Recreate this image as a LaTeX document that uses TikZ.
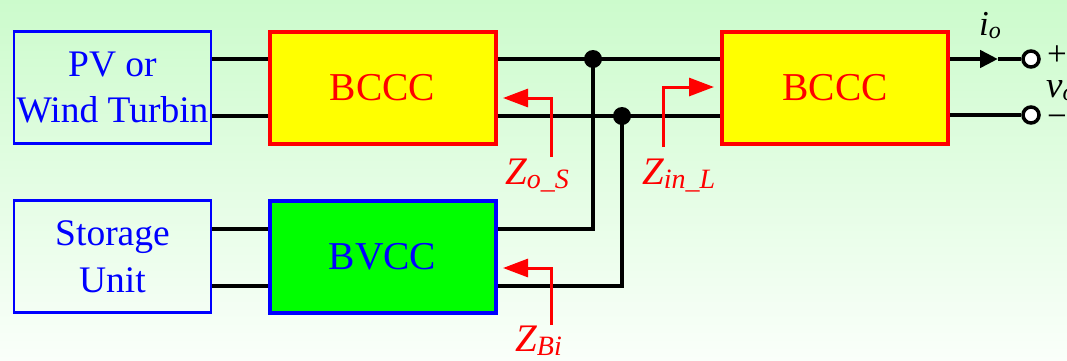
\documentclass[tikz,border=0pt]{standalone}
\usepackage{fontspec}
\setmainfont{Liberation Serif}
\usetikzlibrary{arrows.meta}
\definecolor{bgtop}{RGB}{204,251,204}
\definecolor{bgbot}{RGB}{250,255,250}
\definecolor{pureblue}{RGB}{0,0,255}
\definecolor{purered}{RGB}{255,0,0}
\definecolor{puregreen}{RGB}{0,255,0}
\definecolor{pureyellow}{RGB}{255,255,0}
\newcommand{\zsub}[1]{\raisebox{-4pt}{\fontsize{28}{28}\selectfont #1}}
\begin{document}
\begin{tikzpicture}[x=1pt,y=-1pt,
  src/.style={draw=pureblue,line width=2.5pt,text=pureblue,fill=none,
    minimum width=197pt,minimum height=112pt,inner sep=0pt,align=center,
    font=\fontsize{37.5}{47}\selectfont},
  conv/.style={line width=4pt,minimum width=226pt,minimum height=112pt,
    inner sep=0pt,font=\fontsize{39.5}{44}\selectfont},
  wire/.style={line width=4.5pt,draw=black},
  jdot/.style={circle,fill=black,inner sep=0pt,minimum size=18pt},
  term/.style={circle,draw=black,line width=3.5pt,fill=white,inner sep=0pt,minimum size=16pt},
  zarrow/.style={draw=purered,line width=3pt,-{Triangle[length=25pt,width=18pt]}},
  zlabel/.style={text=purered,inner sep=0pt,font=\fontsize{39}{40}\selectfont\itshape},
  plainlabel/.style={inner sep=0pt,font=\fontsize{35}{40}\selectfont},
]
\useasboundingbox (0,0) rectangle (1067,360);
\clip (0,0) rectangle (1067,360);
\fill[top color=bgtop,bottom color=bgbot] (0,0) rectangle (1067,360);

% blocks
\node[src] (pv) at (112.5,87.5) {PV or\\Wind Turbin};
\node[src] (su) at (112.5,256.5) {Storage\\Unit};
\node[conv,draw=purered,fill=pureyellow,text=purered] (b1) at (382.5,87.5) {BCCC};
\node[conv,draw=pureblue,fill=puregreen,text=pureblue] (bv) at (382.5,256.5) {BVCC};
\node[conv,draw=purered,fill=pureyellow,text=purered] (b2) at (835,87.5) {BCCC};

% junctions
\coordinate (jt) at (593,59);
\coordinate (jb) at (622,116);

% wires
\draw[wire] (pv.east |- jt) -- (b1.west |- jt);
\draw[wire] (pv.east |- jb) -- (b1.west |- jb);
\draw[wire] (su.east |- 0,229) -- (bv.west |- 0,229);
\draw[wire] (su.east |- 0,286) -- (bv.west |- 0,286);
\draw[wire] (b1.east |- jt) -- (b2.west |- jt);
\draw[wire] (b1.east |- jb) -- (b2.west |- jb);
\draw[wire] (jt) -- (jt |- 0,229) -- (bv.east |- 0,229);
\draw[wire] (jb) -- (jb |- 0,286) -- (bv.east |- 0,286);
\node[jdot] (dt) at (jt) {};
\node[jdot] (db) at (jb) {};

% output terminals
\node[term] (tp) at (1031,59) {};
\node[term] (tm) at (1031,115) {};
\coordinate (ah) at (998,59);
\draw[wire,-{Triangle[length=18pt,width=17pt]}] (b2.east |- tp) -- (ah);
\draw[wire] (ah) -- (tp.west);
\draw[wire] (b2.east |- tm) -- (tm.west);
\node[plainlabel,anchor=base west] (io) at (979,35) {\itshape i\raisebox{-3pt}{\fontsize{24}{24}\selectfont o}};
\node[plainlabel,anchor=west] (plus) at (1047,56) {+};
\node[plainlabel,anchor=west] (minus) at (1047,121) {−};
\node[plainlabel,anchor=base west,font=\fontsize{37}{40}\selectfont] (vo) at (1046,97) {\itshape v\raisebox{-3pt}{\fontsize{25}{25}\selectfont o}};

% impedance labels and arrows
\node[zlabel,anchor=base west] (zos) at (505,184) {Z\zsub{o\_S}};
\node[zlabel,anchor=base west] (zin) at (642,184) {Z\zsub{in\_L}};
\node[zlabel,anchor=base west] (zbi) at (515,351) {Z\zsub{Bi}};
\coordinate (zosb) at (551,157);
\coordinate (zost) at (503,98);
\coordinate (zinb) at (663,147);
\coordinate (zint) at (714,87);
\coordinate (zbib) at (551,325);
\coordinate (zbit) at (503,268);
\draw[zarrow] (zosb) |- (zost);
\draw[zarrow] (zinb) |- (zint);
\draw[zarrow] (zbib) |- (zbit);
\end{tikzpicture}
\end{document}
